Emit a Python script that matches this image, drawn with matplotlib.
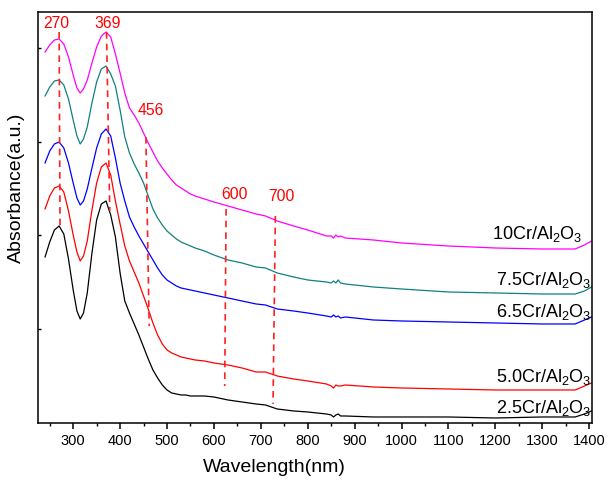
import matplotlib
matplotlib.use("Agg")
import matplotlib.pyplot as plt
from matplotlib.ticker import MultipleLocator

plt.rcParams['font.family'] = ['Liberation Sans', 'DejaVu Sans']
plt.rcParams['mathtext.fontset'] = 'custom'
plt.rcParams['mathtext.rm'] = 'Liberation Sans'
plt.rcParams['mathtext.default'] = 'regular'

wavelength = [240, 250, 260, 270, 280, 290, 300, 308, 315, 322, 330, 340, 350, 360, 370,
              380, 390, 400, 410, 420, 430, 440, 450, 460, 470, 480, 490, 500, 510,
              520, 530, 540, 550, 560,
              580, 600, 630, 660, 690, 710, 735, 770, 800, 840, 850, 855, 860, 865,
              870, 880, 940, 1000, 1100, 1200, 1300, 1370, 1390, 1405]

abs_10cr = [371, 378, 383, 384, 379, 366, 348, 335, 330, 334, 343, 360, 376, 387, 391,
            386, 369, 350, 330, 315, 308, 300, 290, 280, 271, 262, 255, 249, 243,
            238, 235, 232, 229, 227,
            224, 221, 217, 213, 209, 207, 202, 197, 193, 187, 187, 185, 188, 186,
            187, 185, 183, 180, 177, 175, 174, 174, 178, 182]
abs_75cr = [327, 336, 342, 343, 338, 324, 303, 287, 279, 284, 296, 320, 341, 354, 357,
            349, 337, 313, 286, 270, 259, 250, 240, 227, 214, 205, 198, 192, 188,
            184, 181, 179, 177, 175,
            172, 168, 163, 160, 156, 155, 150, 146, 143, 141, 140, 142, 140, 143,
            140, 139, 136, 134, 131, 130, 129, 129, 132, 136]
abs_65cr = [260, 272, 279, 281, 275, 260, 240, 225, 218, 222, 234, 255, 275, 289, 294,
            287, 265, 240, 222, 206, 196, 187, 179, 171, 163, 155, 148, 143, 140,
            137, 135, 134, 133, 132,
            130, 128, 125, 122, 119, 118, 114, 112, 110, 107, 106, 108, 106, 107,
            105, 106, 103, 102, 101, 100, 99, 99, 103, 106]
abs_50cr = [214, 227, 235, 237, 231, 212, 188, 171, 162, 167, 182, 213, 240, 256, 260,
            248, 222, 199, 177, 162, 151, 140, 127, 114, 100, 88, 79, 73, 70,
            68, 66, 65, 64, 63,
            62, 60, 58, 55, 51, 51, 47, 44, 42, 39, 37, 35, 38, 37,
            37, 38, 36, 35, 34, 33, 33, 33, 37, 40]
abs_25cr = [166, 181, 193, 197, 189, 164, 133, 112, 104, 110, 130, 170, 203, 219, 222,
            208, 186, 150, 122, 110, 99, 88, 76, 64, 53, 45, 38, 33, 30,
            29, 28, 28, 27, 27,
            27, 26, 23, 21, 19, 18, 14, 12, 11, 9, 8, 6, 8, 9,
            7, 7, 6, 6, 6, 5, 6, 6, 9, 12]

series = [abs_10cr, abs_75cr, abs_65cr, abs_50cr, abs_25cr]
colors = ['#ff00ff', '#118080', '#0000ff', '#ff0000', '#000000']
labels = [r'10Cr/Al$_2$O$_3$', r'7.5Cr/Al$_2$O$_3$', r'6.5Cr/Al$_2$O$_3$',
          r'5.0Cr/Al$_2$O$_3$', r'2.5Cr/Al$_2$O$_3$']
label_x = [1386, 1405, 1405, 1405, 1405]
label_y = [185, 139, 107, 42, 11]

# dashed marker lines: (x_top, y_top, x_bottom, y_bottom)
peak_names = ['270', '369', '456', '600', '700']
line_x_top = [270, 371, 455, 626, 731]
line_y_top = [391, 391, 286, 214, 207]
line_x_bot = [272, 378, 462, 623, 726]
line_y_bot = [194, 212, 97, 37, 19]
text_x = [265, 373, 465, 643, 744]
text_y = [400, 400, 313, 229, 227]

fig = plt.figure(figsize=(6.08, 4.85), dpi=100)
ax = fig.add_axes([0.0625, 0.1258, 0.9112, 0.8474])

for ys, c in zip(series, colors):
    ax.plot(wavelength, ys, color=c, lw=0.9)

for i in range(len(peak_names)):
    ax.plot([line_x_top[i], line_x_bot[i]], [line_y_top[i], line_y_bot[i]],
            color='#ff2020', lw=1.2, linestyle=(0, (4, 3)))
    ax.text(text_x[i], text_y[i], peak_names[i], color='#ff0000', fontsize=11.3,
            ha='center', va='center')

for lab, lx, ly in zip(labels, label_x, label_y):
    ax.text(lx, ly, lab, fontsize=13, ha='right', va='baseline', color='black')

ax.set_xlim(225, 1406)
ax.set_ylim(0, 411)
ax.xaxis.set_minor_locator(MultipleLocator(50))
ax.set_xticks([300, 400, 500, 600, 700, 800, 900, 1000, 1100, 1200, 1300, 1400])
ax.set_yticks([93.75, 187.5, 281.25, 375])
ax.set_yticklabels([])
ax.tick_params(axis='x', which='major', direction='out', length=4, width=1.1,
               labelsize=10.5, top=False, pad=3)
ax.tick_params(axis='x', which='minor', direction='out', length=2.5, width=1.0, top=False)
ax.tick_params(axis='y', which='major', direction='in', length=2.5, width=1.0, right=False)
for sp in ax.spines.values():
    sp.set_linewidth(1.1)

ax.set_xlabel('Wavelength(nm)', fontsize=14, labelpad=6)
ax.xaxis.set_label_coords(0.4265, -0.085)
ax.set_ylabel('Absorbance(a.u.)', fontsize=14)
ax.yaxis.set_label_coords(-0.024, 0.575)

fig.savefig('out.png', dpi=100)
